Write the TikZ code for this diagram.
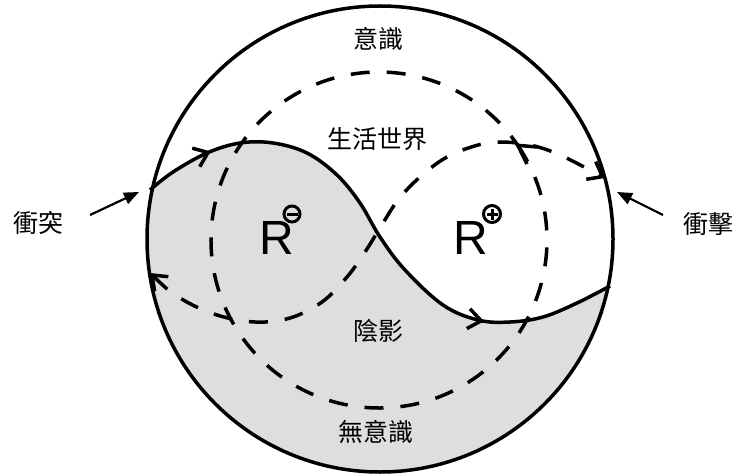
\documentclass[tikz,border=0pt]{standalone}
\usepackage{fontspec}
\setmainfont{Liberation Sans}
\newfontfamily\cjk{Noto Sans CJK TC}
\usetikzlibrary{arrows.meta,decorations.markings}
\definecolor{softgray}{RGB}{222,222,222}
\begin{document}
\begin{tikzpicture}[x=1pt,y=-1pt,
  soul/.style={line width=3.5pt},
  dashline/.style={line width=3.5pt, dash pattern=on 19pt off 17pt},
  cjklabel/.style={font=\cjk\fontsize{25}{25}\selectfont, inner sep=0pt},
  rsym/.style={font=\fontsize{48}{48}\selectfont, inner sep=0pt},
  push/.style={line width=2.2pt, -{Triangle[length=15pt,width=12pt]}},
  ring/.style={line width=3pt},
  barbtip/.tip={Straight Barb[length=13pt,width=20pt]}
]
\useasboundingbox (0,0) rectangle (739,476);

\coordinate (O) at (380,239);
\coordinate (C) at (379,240);

% shaded lower region
\begin{scope}
\clip (O) circle[radius=233pt];
\fill[softgray] plot[smooth,tension=0.6] coordinates {(150,190) (173,172) (207,153) (240,143) (273,143) (307,153) (337,175) (360,203) (380,237) (405,270) (443,305) (478,320) (510,322) (543,317) (577,303) (610,286)}
  -- (690,286) -- (690,490) -- (70,490) -- (70,190) -- cycle;
\end{scope}

% outer circle
\draw[soul] (O) circle[radius=233pt];

% big dashed circle with arrow
\coordinate (K) at ([shift={(-34.3:168)}]C);
\draw[dashline] (K) arc[start angle=-34.3, end angle=325.7, radius=168];
\draw[soul] (537,147) -- (K) -- (527,164);

% S-shaped dashed path
\draw[dashline, barbtip-barbtip]
  plot[smooth,tension=0.6] coordinates {(150,273) (180,298) (217,315) (255,322) (290,318) (322,302) (347,277) (365,252) (380,228) (398,200) (420,177) (447,157) (478,145) (500,142) (530,145) (560,155) (605,178)};

% solid boundary curve with arrows
\draw[soul, postaction={decorate}, decoration={markings,
    mark=at position 0.13 with {\arrow{barbtip}},
    mark=at position 0.76 with {\arrow{barbtip}}}]
  plot[smooth,tension=0.6] coordinates {(150,190) (173,172) (207,153) (240,143) (273,143) (307,153) (337,175) (360,203) (380,237) (405,270) (443,305) (478,320) (510,322) (543,317) (577,303) (610,286)};

% labels
\node[cjklabel] (yishi) at (378,39) {意識};
\node[cjklabel] (shenghuo) at (377,139) {生活世界};
\node[cjklabel] (yinying) at (378,331) {陰影};
\node[cjklabel] (wuyishi) at (376,432) {無意識};
\node[cjklabel] (chongtu) at (38,223) {衝突};
\node[cjklabel] (chongji) at (708,224) {衝擊};

% outside arrows
\coordinate (t1) at (90,215);
\coordinate (h1) at (139,192);
\coordinate (t2) at (663,215);
\coordinate (h2) at (617,192);
\draw[push] (t1) -- (h1);
\draw[push] (t2) -- (h2);

% R symbols
\node[rsym] (rminus) at (277,238) {R};
\node[rsym] (rplus) at (471,238) {R};
\coordinate (m) at (292,214);
\coordinate (p) at (492,214);
\draw[ring] (m) circle[radius=8pt];
\draw[line width=3pt] ([xshift=-5.5pt]m) -- ([xshift=5.5pt]m);
\draw[ring] (p) circle[radius=8.5pt];
\draw[line width=3pt] ([xshift=-5.5pt]p) -- ([xshift=5.5pt]p);
\draw[line width=3pt] ([yshift=-5.5pt]p) -- ([yshift=5.5pt]p);
\end{tikzpicture}
\end{document}
